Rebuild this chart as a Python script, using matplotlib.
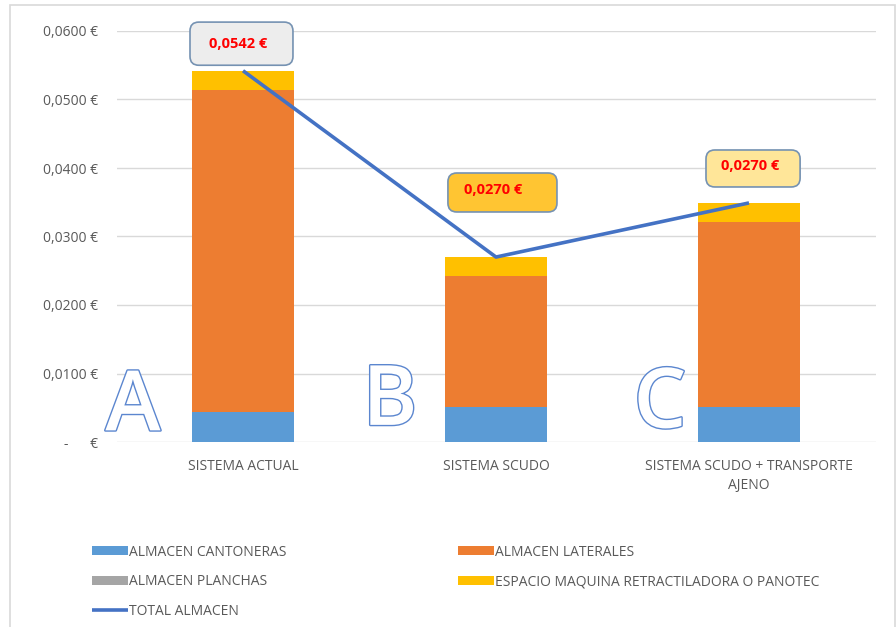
import matplotlib.pyplot as plt
import matplotlib.patheffects as pe
from matplotlib.ticker import FixedLocator, FixedFormatter
from matplotlib.patches import Rectangle, FancyBboxPatch
import numpy as np

plt.rcParams['font.family'] = ['Open Sans', 'DejaVu Sans']

categories = ["SISTEMA ACTUAL", "SISTEMA SCUDO", "SISTEMA SCUDO + TRANSPORTE\nAJENO"]
cantoneras = [0.0044, 0.0051, 0.0051]
laterales  = [0.0470, 0.0191, 0.0270]
planchas   = [0.0, 0.0, 0.0]
espacio    = [0.0028, 0.0028, 0.0028]
total      = [0.0542, 0.0270, 0.0349]
box_labels = ["0,0542 €", "0,0270 €", "0,0270 €"]
letters    = ["A", "B", "C"]

yticks      = [0.0, 0.01, 0.02, 0.03, 0.04, 0.05, 0.06]
ytick_texts = ["-      €", "0,0100 €", "0,0200 €", "0,0300 €", "0,0400 €", "0,0500 €", "0,0600 €"]

c_blue, c_orange, c_gray, c_yellow, c_line = "#5B9BD5", "#ED7D31", "#A5A5A5", "#FFC000", "#4472C4"
txt = "#595959"

fig = plt.figure(figsize=(8.96, 6.27), dpi=100)
fig.patches.append(Rectangle((10 / 896, -0.01), 885 / 896, 1.0 - 5 / 627 + 0.01,
                             transform=fig.transFigure, fill=False, edgecolor="#D9D9D9", lw=1.2))
ax = fig.add_axes([116.5 / 896, 1 - 442 / 627, 759 / 896, 411 / 627])

x = np.arange(len(categories))
w = 0.4
b1 = np.array(cantoneras)
b2 = b1 + np.array(laterales)
b3 = b2 + np.array(planchas)
ax.bar(x, cantoneras, w, color=c_blue, label="ALMACEN CANTONERAS", zorder=2)
ax.bar(x, laterales, w, bottom=b1, color=c_orange, label="ALMACEN LATERALES", zorder=2)
ax.bar(x, planchas, w, bottom=b2, color=c_gray, label="ALMACEN PLANCHAS", zorder=2)
ax.bar(x, espacio, w, bottom=b3, color=c_yellow, label="ESPACIO MAQUINA RETRACTILADORA O PANOTEC", zorder=2)
ax.plot(x, total, color=c_line, lw=2.6, label="TOTAL ALMACEN", zorder=3, solid_capstyle="butt")

ax.set_xlim(-0.5, 2.5)
ax.set_ylim(0, 0.06)
ax.yaxis.set_major_locator(FixedLocator(yticks))
ax.yaxis.set_major_formatter(FixedFormatter(ytick_texts))
ax.set_xticks(x)
ax.set_xticklabels(categories, fontsize=10, color=txt, linespacing=1.35)
ax.tick_params(axis="both", length=0, labelsize=10, colors=txt)
ax.tick_params(axis="y", pad=13)
ax.tick_params(axis="x", pad=12)
ax.grid(axis="y", color="#D9D9D9", lw=1, zorder=0)
for s in ax.spines.values():
    s.set_visible(False)

# big outlined letters
letter_pos = [(-0.435, 0.0017), (0.581, 0.0025), (1.648, 0.0021)]
for (lx, ly), l in zip(letter_pos, letters):
    ax.text(lx, ly, l, fontsize=60, fontweight="semibold", color="white", ha="center", va="baseline",
            zorder=4, path_effects=[pe.withStroke(linewidth=2.0, foreground="#5B86CF")])

# callout boxes (x0, y0, width, height in data units) and label centres
box_rects = [(-0.2095, 0.0550, 0.407, 0.0063), (0.810, 0.03358, 0.431, 0.00569), (1.830, 0.03723, 0.372, 0.0054)]
text_pos = [(-0.020, 0.0581), (0.988, 0.0368), (2.004, 0.0403)]
box_fill = ["#EDEDED", "#FFC532", "#FFE699"]
aspect = 253 / 6850
for (x0, y0, bw, bh), (tx, ty), lab, fc in zip(box_rects, text_pos, box_labels, box_fill):
    ax.add_patch(FancyBboxPatch((x0, y0), bw, bh, boxstyle="round,pad=0,rounding_size=0.035",
                                mutation_aspect=aspect, fc=fc, ec="#7592B2", lw=1.2,
                                zorder=5, clip_on=False))
    ax.text(tx, ty, lab, fontsize=10.5, fontweight="bold", color="#FF0000", ha="center", va="center",
            zorder=6, clip_on=False)

h, l = ax.get_legend_handles_labels()
by_label = dict(zip(l, h))
names = ["ALMACEN CANTONERAS", "ALMACEN PLANCHAS", "TOTAL ALMACEN",
         "ALMACEN LATERALES", "ESPACIO MAQUINA RETRACTILADORA O PANOTEC"]
leg = fig.legend([by_label[n] for n in names], names, ncol=2, loc="upper left",
                 bbox_to_anchor=(79 / 896, 1 - 532 / 627), frameon=False, fontsize=10,
                 handlelength=2.6, handleheight=0.6, handletextpad=0.1, labelspacing=1.05,
                 columnspacing=12.35, labelcolor=txt)

fig.savefig("out.png", dpi=100)
